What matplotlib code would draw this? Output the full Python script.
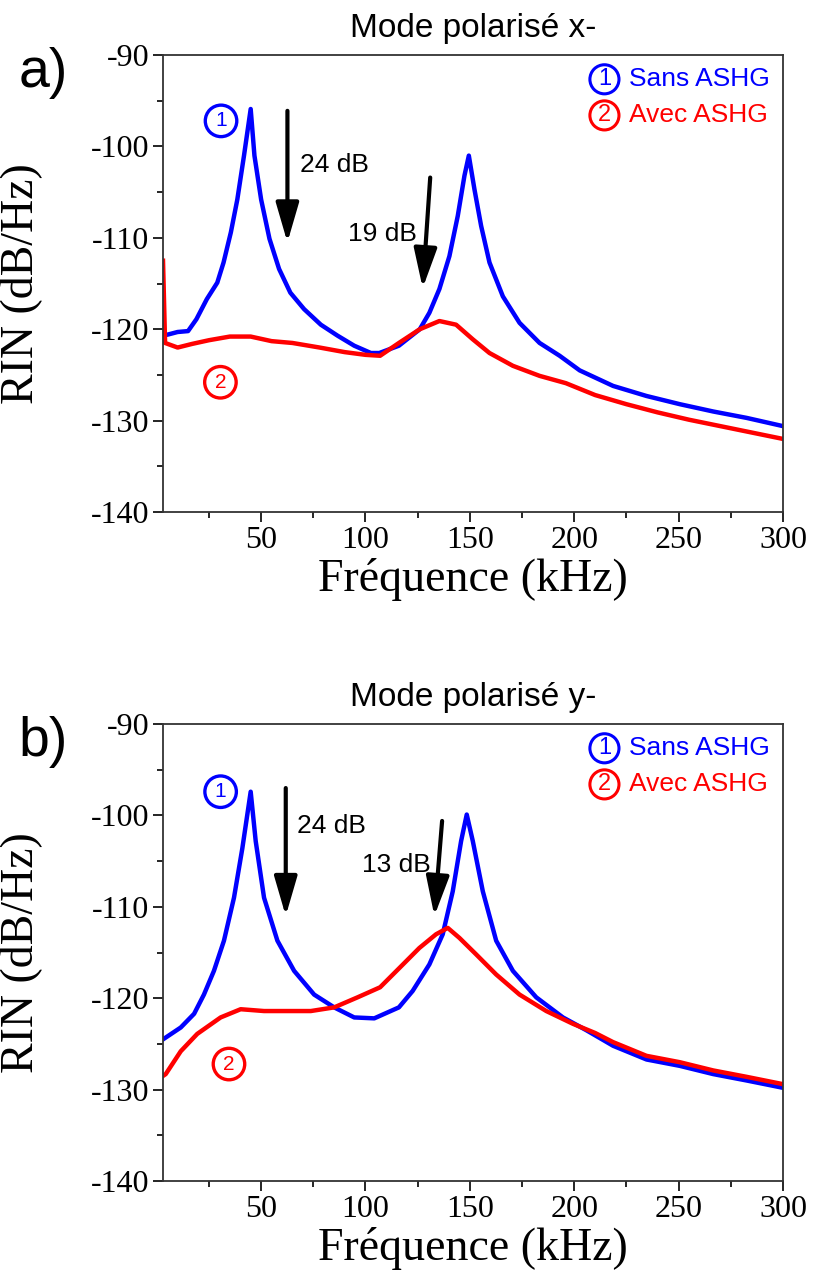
import matplotlib
matplotlib.use("Agg")
import matplotlib.pyplot as plt
from matplotlib.ticker import MultipleLocator

plt.rcParams["axes.unicode_minus"] = False

SANS = ["Liberation Sans", "DejaVu Sans"]
SERIF = ["Liberation Serif", "DejaVu Serif"]

BLUE = "#0000ff"
RED = "#ff0000"

# --- panel a : mode polarise x- ---
a_sans_f = [3, 5, 10, 15, 19, 24, 29, 32, 35.5, 38.6, 41.8, 45, 46.8, 50, 54, 58.6,
            64, 70.6, 78.6, 86.6, 94.6, 102.6, 106.6, 116, 126, 130.6, 135.4, 140.2,
            144.2, 147.4, 149.5, 152.2, 155.4, 159.4, 165.8, 173.8, 183.4, 193, 202.6,
            218.6, 234.6, 250.6, 266.6, 282.6, 300]
a_sans_v = [-120.5, -120.6, -120.3, -120.2, -118.9, -116.7, -114.9, -112.7, -109.4,
            -105.8, -101, -95.9, -101, -105.8, -110.1, -113.4, -116, -117.8, -119.5,
            -120.7, -121.8, -122.6, -122.6, -121.8, -120, -118.2, -115.6, -112, -107.6,
            -103.2, -101, -104.7, -108.7, -112.7, -116.4, -119.3, -121.5, -122.9, -124.5,
            -126.2, -127.3, -128.2, -129, -129.7, -130.6]
a_avec_f = [3, 4, 10, 17, 25, 35, 45, 55, 65, 78, 90, 100, 107, 116, 126, 135.4, 143.4,
            151.4, 159.4, 170.6, 183.4, 196, 210, 225, 240, 255, 270, 285, 300]
a_avec_v = [-112.5, -121.5, -122, -121.6, -121.2, -120.8, -120.8, -121.3, -121.5, -122,
            -122.5, -122.8, -122.9, -121.5, -120, -119.1, -119.5, -121.1, -122.6, -124,
            -125.1, -125.9, -127.2, -128.2, -129.1, -129.9, -130.6, -131.3, -132]

# --- panel b : mode polarise y- ---
b_sans_f = [3, 4.3, 11.5, 17.9, 22.6, 27.4, 32.2, 37, 41, 45, 47.4, 51.4, 57.8, 65.8,
            75.4, 85, 94.6, 104.2, 116, 122.6, 130.6, 137, 141.8, 145.8, 148.5, 151.4,
            156.2, 162.6, 170.6, 181.8, 194.6, 205.8, 218.6, 234.6, 250.6, 266.6, 282.6, 300]
b_sans_v = [-124.5, -124.3, -123.2, -121.7, -119.6, -117, -113.7, -109, -103.6, -97.4,
            -102.8, -109, -113.7, -117, -119.6, -121, -122.1, -122.2, -121, -119.2,
            -116.3, -113, -108.3, -102.8, -99.9, -102.8, -108.3, -113.7, -117, -119.9,
            -122.1, -123.5, -125.2, -126.7, -127.4, -128.3, -129, -129.8]
b_avec_f = [3, 4.3, 11.5, 19.4, 30.6, 40.2, 51.4, 62.6, 73.8, 85, 96.2, 107, 116.2,
            125.8, 133.8, 139.4, 145, 153, 162.6, 173.8, 186.6, 199.4, 210, 218.6, 234.6,
            250.6, 266.6, 282.6, 300]
b_avec_v = [-128.5, -128.3, -125.8, -123.9, -122.1, -121.2, -121.4, -121.4, -121.4, -121,
            -119.9, -118.8, -116.7, -114.5, -113, -112.3, -113.4, -115.2, -117.4, -119.6,
            -121.4, -122.8, -123.8, -124.8, -126.3, -127, -127.9, -128.6, -129.4]

panels = [
    dict(letter="a)", title="Mode polarisé x-", sans=(a_sans_f, a_sans_v), avec=(a_avec_f, a_avec_v),
         c1=(30.8, -97.2), c2=(30.5, -125.8),
         arrows=[((62.6, -96.1), (62.6, -110.5)), ((131, -103.4), (127.4, -115.5))],
         labels=[(68.5, -102, "24 dB", "left"), (124.5, -109.6, "19 dB", "right")]),
    dict(letter="b)", title="Mode polarisé y-", sans=(b_sans_f, b_sans_v), avec=(b_avec_f, b_avec_v),
         c1=(30.6, -97.4), c2=(34.6, -127.2),
         arrows=[((61.8, -97), (61.8, -111)), ((136.7, -100.6), (133, -111))],
         labels=[(67, -101.2, "24 dB", "left"), (131.4, -105.4, "13 dB", "right")]),
]

fig = plt.figure(figsize=(8.13, 12.75), dpi=100)
ax_pos = [[0.2005, 0.5984, 0.7626, 0.3584], [0.2005, 0.0737, 0.7626, 0.3584]]
letter_y = [0.943, 0.418]

for p, pos, ly in zip(panels, ax_pos, letter_y):
    ax = fig.add_axes(pos)
    ax.plot(*p["sans"], color=BLUE, lw=3.2)
    ax.plot(*p["avec"], color=RED, lw=3.2)
    ax.set_xlim(3, 300)
    ax.set_ylim(-140, -90)
    ax.xaxis.set_major_locator(MultipleLocator(50))
    ax.xaxis.set_minor_locator(MultipleLocator(25))
    ax.yaxis.set_major_locator(MultipleLocator(10))
    ax.yaxis.set_minor_locator(MultipleLocator(5))
    ax.tick_params(which="major", direction="out", length=7, width=1.2, pad=3)
    ax.tick_params(which="minor", direction="out", length=4, width=1.2)
    for lab in ax.get_xticklabels() + ax.get_yticklabels():
        lab.set_fontfamily(SERIF)
        lab.set_fontsize(23)
    for s in ax.spines.values():
        s.set_linewidth(1.3)
        s.set_color("#333333")
    ax.set_xlabel("Fréquence (kHz)", family=SERIF, fontsize=33)
    ax.set_ylabel("RIN (dB/Hz)", family=SERIF, fontsize=33)
    ax.yaxis.set_label_coords(-0.195, 0.5)
    ax.xaxis.set_label_coords(0.5, -0.10)
    ax.text(0.5, 1.059, p["title"], transform=ax.transAxes, ha="center", va="center",
            family=SANS, fontsize=24)
    fig.text(0.053, ly, p["letter"], ha="center", va="center", family=SANS, fontsize=40)

    # circled curve numbers
    for (x, y), num, col in [(p["c1"], "1", BLUE), (p["c2"], "2", RED)]:
        ax.text(x, y, num, ha="center", va="center", color=col, family=SANS, fontsize=15,
                bbox=dict(boxstyle="circle,pad=0.3", fc="none", ec=col, lw=2.4))

    # legend
    for ty, num, name, col in [(0.947, "1", "Sans ASHG", BLUE), (0.868, "2", "Avec ASHG", RED)]:
        ax.text(0.712, ty, num, transform=ax.transAxes, ha="center", va="center", color=col,
                family=SANS, fontsize=17,
                bbox=dict(boxstyle="circle,pad=0.15", fc="none", ec=col, lw=2.2))
        ax.text(0.752, ty, name, transform=ax.transAxes, ha="left", va="center", color=col,
                family=SANS, fontsize=19)

    # arrows and dB labels
    for start, end in p["arrows"]:
        ax.annotate("", xy=end, xytext=start,
                    arrowprops=dict(arrowstyle="-|>,head_length=1.1,head_width=0.32",
                                    color="black", lw=3, mutation_scale=22,
                                    shrinkA=0, shrinkB=0))
    for x, y, txt, ha in p["labels"]:
        ax.text(x, y, txt, ha=ha, va="center", family=SANS, fontsize=19)

fig.savefig("out.png", dpi=100)
